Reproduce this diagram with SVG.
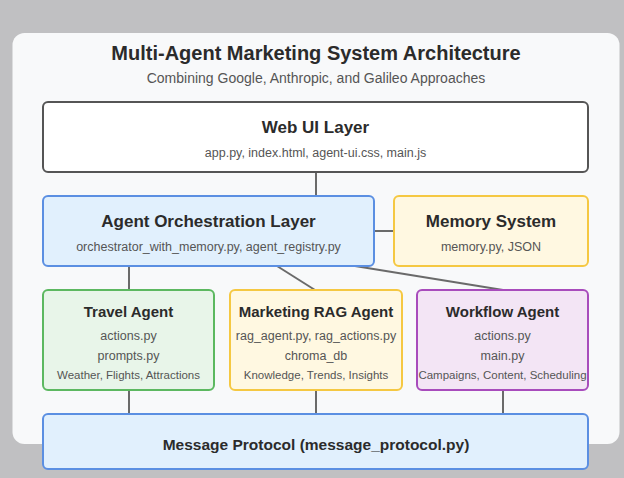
<svg xmlns="http://www.w3.org/2000/svg" width="624" height="478" viewBox="0 0 624 478">
<style>
.bg{fill:#c0c0c2}
.panel{fill:#f8f9fa}
.box{stroke-width:2}
.t{font-family:"Liberation Sans",Arial,sans-serif;text-anchor:middle}
.title{font-size:20px;font-weight:bold;fill:#2b2b2b}
.subtitle{font-size:14px;fill:#555}
.h{font-size:17px;font-weight:bold;fill:#2b2b2b}
.ha{font-size:15px;font-weight:bold;fill:#2b2b2b}
.s{font-size:12.5px;fill:#555}
.ss{font-size:11.5px;fill:#555}
.conn line{stroke:#6a6a6a;stroke-width:2}
</style>
<rect class="bg" x="0" y="0" width="624" height="478"/>
<rect class="panel" x="12.5" y="33" width="607" height="411" rx="12"/>
<text class="t title" x="316" y="60">Multi-Agent Marketing System Architecture</text>
<text class="t subtitle" x="316" y="83">Combining Google, Anthropic, and Galileo Approaches</text>
<g id="connectors" class="conn">
<line x1="316" y1="172" x2="316" y2="196"/>
<line x1="374" y1="231" x2="394" y2="231"/>
<line x1="129" y1="266" x2="129" y2="290"/>
<line x1="277" y1="266" x2="315" y2="290"/>
<line x1="355" y1="266" x2="503" y2="290"/>
<line x1="129" y1="390" x2="129" y2="414"/>
<line x1="316" y1="390" x2="316" y2="414"/>
<line x1="503" y1="390" x2="503" y2="414"/>
</g>
<g id="web-ui">
<rect class="box" x="43" y="102" width="545" height="70" rx="5" fill="#ffffff" stroke="#555555"/>
<text class="t h" x="315.5" y="133">Web UI Layer</text>
<text class="t s" x="315.5" y="157">app.py, index.html, agent-ui.css, main.js</text>
</g>
<g id="orchestration">
<rect class="box" x="43" y="196" width="331" height="70" rx="5" fill="#e1f0fd" stroke="#5b8fe2"/>
<text class="t h" x="208.5" y="227">Agent Orchestration Layer</text>
<text class="t s" x="208.5" y="251">orchestrator_with_memory.py, agent_registry.py</text>
</g>
<g id="memory">
<rect class="box" x="394" y="196" width="194" height="70" rx="5" fill="#fff8e1" stroke="#f5c842"/>
<text class="t h" x="491" y="227">Memory System</text>
<text class="t s" x="491" y="251">memory.py, JSON</text>
</g>
<g id="travel-agent">
<rect class="box" x="43" y="290" width="171" height="100" rx="5" fill="#e8f5e9" stroke="#5cb860"/>
<text class="t ha" x="128.5" y="317">Travel Agent</text>
<text class="t s" x="128.5" y="340">actions.py</text>
<text class="t s" x="128.5" y="360">prompts.py</text>
<text class="t ss" x="128.5" y="379">Weather, Flights, Attractions</text>
</g>
<g id="rag-agent">
<rect class="box" x="230" y="290" width="172" height="100" rx="5" fill="#fff8e1" stroke="#f5c842"/>
<text class="t ha" x="316" y="317">Marketing RAG Agent</text>
<text class="t s" x="316" y="340">rag_agent.py, rag_actions.py</text>
<text class="t s" x="316" y="360">chroma_db</text>
<text class="t ss" x="316" y="379">Knowledge, Trends, Insights</text>
</g>
<g id="workflow-agent">
<rect class="box" x="417" y="290" width="171" height="100" rx="5" fill="#f3e5f5" stroke="#a84cbc"/>
<text class="t ha" x="502.5" y="317">Workflow Agent</text>
<text class="t s" x="502.5" y="340">actions.py</text>
<text class="t s" x="502.5" y="360">main.py</text>
<text class="t ss" x="502.5" y="379">Campaigns, Content, Scheduling</text>
</g>
<g id="message-protocol">
<rect class="box" x="43" y="414" width="545" height="55" rx="5" fill="#e1f0fd" stroke="#5b8fe2"/>
<text class="t" x="316" y="450" font-size="15.5" font-weight="bold" fill="#2b2b2b">Message Protocol (message_protocol.py)</text>
</g>
</svg>
